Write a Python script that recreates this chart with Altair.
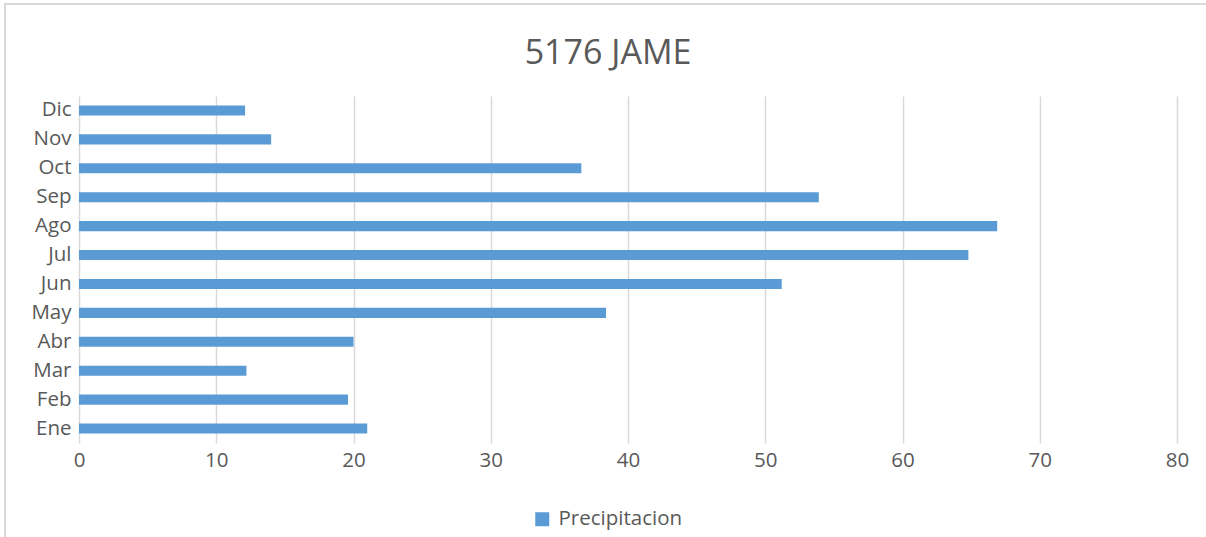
import altair as alt
import pandas as pd

months = ["Ene", "Feb", "Mar", "Abr", "May", "Jun", "Jul", "Ago", "Sep", "Oct", "Nov", "Dic"]
precip = [21.0, 19.6, 12.2, 20.0, 38.4, 51.2, 64.8, 66.9, 53.9, 36.6, 14.0, 12.1]
series_name = "Precipitacion"
title_text = "5176 JAME"
x_ticks = [0, 10, 20, 30, 40, 50, 60, 70, 80]

df = pd.DataFrame({"mes": months, "valor": precip, "serie": [series_name] * len(months)})
one = pd.DataFrame({"t": [title_text]})

FONT = "Open Sans"
TXT = "#595959"
LBL = 20.5

bars = alt.Chart(df).mark_bar(color="#5B9BD5").encode(
    x=alt.X("valor:Q",
            scale=alt.Scale(domain=[0, 80], nice=False, zero=True),
            axis=alt.Axis(values=x_ticks, title=None, grid=True, gridColor="#D9D9D9", gridWidth=1.5,
                          domain=False, ticks=False, labelFontSize=LBL, labelColor=TXT,
                          labelFont=FONT, labelPadding=7, labelFlush=False)),
    y=alt.Y("mes:N", sort=list(reversed(months)),
            scale=alt.Scale(paddingInner=0.65, paddingOuter=0.325),
            axis=alt.Axis(title=None, domain=False, ticks=False, labelFontSize=LBL, labelColor=TXT,
                          labelFont=FONT, labelPadding=8)),
    fill=alt.Fill("serie:N", scale=alt.Scale(range=["#5B9BD5"]),
                  legend=alt.Legend(title=None, orient="none", legendX=453, legendY=413,
                                    direction="horizontal", symbolType="square", symbolSize=196,
                                    labelFontSize=LBL, labelFont=FONT, labelColor=TXT,
                                    symbolStrokeWidth=0, labelOffset=6)),
)

border = alt.Chart(one).mark_rect(fill="transparent", stroke="#D9D9D9", strokeWidth=2).encode(
    x=alt.value(-74), x2=alt.value(1200), y=alt.value(-92), y2=alt.value(500)
)

title = alt.Chart(one).mark_text(
    font=FONT, fontSize=34, color=TXT, align="center", baseline="middle"
).encode(text="t:N", x=alt.value(529), y=alt.value(-42))

chart = alt.layer(border, bars, title).properties(
    width=1098, height=347,
    background="white",
    autosize=alt.AutoSizeParams(type="none"),
    padding={"left": 79, "top": 96, "right": 29, "bottom": 94},
).configure_view(stroke="transparent", strokeWidth=0)

chart.save("out.html", embed_options={"renderer": "svg", "actions": False})
